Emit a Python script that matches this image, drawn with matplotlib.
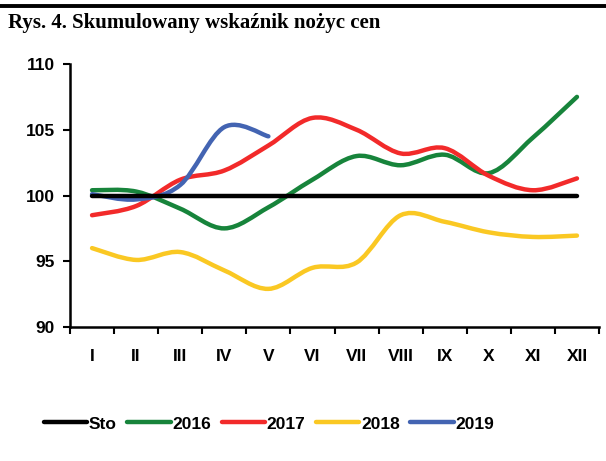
import matplotlib
matplotlib.use("Agg")
import matplotlib.pyplot as plt
from matplotlib.path import Path
from matplotlib.patches import PathPatch
from matplotlib.lines import Line2D

months = ['I', 'II', 'III', 'IV', 'V', 'VI', 'VII', 'VIII', 'IX', 'X', 'XI', 'XII']
sto = [100] * 12
y2016 = [100.4, 100.3, 99.0, 97.5, 99.1, 101.2, 103.0, 102.3, 103.1, 101.7, 104.4, 107.5]
y2017 = [98.5, 99.2, 101.2, 101.9, 103.8, 105.9, 105.0, 103.2, 103.6, 101.5, 100.4, 101.3]
y2018 = [96.0, 95.1, 95.7, 94.3, 92.9, 94.5, 94.9, 98.5, 98.0, 97.2, 96.85, 96.95]
y2019 = [100.1, 99.7, 100.8, 105.2, 104.5]

series = [('Sto', sto, '#000000'),
          ('2016', y2016, '#17843b'),
          ('2017', y2017, '#f22a2a'),
          ('2018', y2018, '#fac823'),
          ('2019', y2019, '#4364b2')]


def smooth_path(ys):
    # excel-like smoothed line as cubic bezier segments
    xs = list(range(len(ys)))
    pts = list(zip(xs, ys))
    verts = [pts[0]]
    codes = [Path.MOVETO]
    n = len(pts)
    for i in range(n - 1):
        p0 = pts[i - 1] if i > 0 else pts[i]
        p1 = pts[i]
        p2 = pts[i + 1]
        p3 = pts[i + 2] if i + 2 < n else pts[i + 1]
        c1 = (p1[0] + (p2[0] - p0[0]) / 6, p1[1] + (p2[1] - p0[1]) / 6)
        c2 = (p2[0] - (p3[0] - p1[0]) / 6, p2[1] - (p3[1] - p1[1]) / 6)
        verts += [c1, c2, p2]
        codes += [Path.CURVE4] * 3
    return Path(verts, codes)


plt.rcParams['font.family'] = ['Liberation Sans', 'DejaVu Sans']
fig = plt.figure(figsize=(6.06, 4.61), dpi=100)
ax = fig.add_axes([70 / 606, 1 - 327 / 461, 529 / 606, 263 / 461])

handles = []
for name, vals, col in series:
    if name == 'Sto':
        ax.plot(range(len(vals)), vals, color=col, lw=3.2, solid_capstyle='round')
    else:
        ax.add_patch(PathPatch(smooth_path(vals), fill=False, edgecolor=col,
                               lw=3.2, capstyle='round'))
    handles.append(Line2D([], [], color=col, lw=3.2, solid_capstyle='round', label=name))

ax.set_xlim(-0.5, 11.5)
ax.set_ylim(90, 110)
ax.set_yticks([90, 95, 100, 105, 110])
ax.set_xticks([i - 0.5 for i in range(13)], minor=False)
ax.set_xticklabels([])
ax.set_xticks(range(12), minor=True)
ax.set_xticklabels(months, minor=True)
ax.tick_params(axis='x', which='minor', length=0, pad=16)
ax.tick_params(axis='x', which='major', length=5, width=1.5, direction='out')
ax.tick_params(axis='y', length=5, width=1.5, pad=6)
for lab in ax.get_xticklabels(minor=True) + ax.get_yticklabels():
    lab.set_fontweight('bold')
    lab.set_fontsize(12.5)
for s in ['top', 'right']:
    ax.spines[s].set_visible(False)
for s in ['left', 'bottom']:
    ax.spines[s].set_linewidth(1.8)

fig.legend(handles=handles, loc='center', bbox_to_anchor=(269 / 606, 1 - 424 / 461),
           ncol=5, frameon=False, handlelength=2.5, handletextpad=0.1,
           columnspacing=0.6, prop={'weight': 'bold', 'size': 12.5})

fig.add_artist(Line2D([0, 1], [1 - 6 / 461, 1 - 6 / 461], color='black', lw=2.8,
                      transform=fig.transFigure))
fig.text(8 / 606, 1 - 23 / 461, 'Rys. 4. Skumulowany wskaźnik nożyc cen',
         family='Liberation Serif', weight='bold', fontsize=15, va='center', ha='left')

fig.savefig('out.png', dpi=100)
